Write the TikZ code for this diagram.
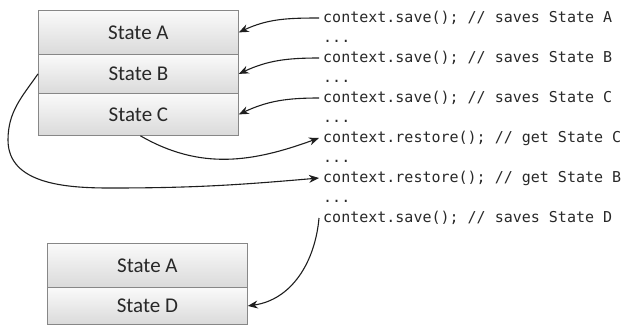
\documentclass[tikz,border=0pt]{standalone}
\usepackage{fontspec}
\setmainfont{Carlito}
\newfontfamily\codefont{DejaVu Sans Mono}
\usetikzlibrary{arrows.meta}
\definecolor{boxline}{RGB}{135,135,135}
\definecolor{boxtop}{RGB}{250,250,250}
\definecolor{boxbot}{RGB}{218,218,218}
\definecolor{txtcol}{RGB}{40,40,40}
\definecolor{arrcol}{RGB}{30,30,30}
\begin{document}
\begin{tikzpicture}[x=1pt,y=-1pt,
  statebox/.style={draw=boxline, line width=0.8pt, top color=boxtop, bottom color=boxbot,
    minimum width=200pt, anchor=north west, inner sep=0pt, text=txtcol,
    font=\fontsize{21}{21}\selectfont},
  codeline/.style={anchor=west, inner xsep=4pt, inner ysep=0pt, text height=11pt, text depth=3pt,
    text=txtcol, font=\codefont\fontsize{15}{15}\selectfont},
  arr/.style={draw=arrcol, line width=1.1pt, -{Stealth[length=10pt,width=8pt]}}]
\useasboundingbox (0,0) rectangle (627,325);
% top stack
\node[statebox, minimum height=44pt] (ta) at (38,10) {State A};
\node[statebox, minimum height=39pt] (tb) at (38,54) {State B};
\node[statebox, minimum height=42pt] (tc) at (38,93) {State C};
% bottom stack
\node[statebox, minimum height=44pt] (ba) at (47,243) {State A};
\node[statebox, minimum height=37pt] (bd) at (47,287) {State D};
% code
\node[codeline] (c1) at (319,18) {context.save(); // saves State A};
\node[codeline] (d1) at (319,38) {...};
\node[codeline] (c2) at (319,58) {context.save(); // saves State B};
\node[codeline] (d2) at (319,78) {...};
\node[codeline] (c3) at (319,98) {context.save(); // saves State C};
\node[codeline] (d3) at (319,118) {...};
\node[codeline] (c4) at (319,138) {context.restore(); // get State C};
\node[codeline] (d4) at (319,158) {...};
\node[codeline] (c5) at (319,178) {context.restore(); // get State B};
\node[codeline] (d5) at (319,198) {...};
\node[codeline] (c6) at (319,218) {context.save(); // saves State D};
% connectors
\coordinate (p1) at (8,140);
\coordinate (p2) at (110,188);
\draw[arr] (c1.west) to[out=180,in=25] (ta.east);
\draw[arr] (c2.west) to[out=180,in=25] (tb.east);
\draw[arr] (c3.west) to[out=180,in=25] (tc.east);
\draw[arr] ([xshift=2pt]tc.south) to[out=-30,in=200] (c4.west);
\draw[arr] (tb.west) to[out=235,in=90] (p1) to[out=-90,in=180] (p2) to[out=0,in=185] (c5.west);
\draw[arr] (c6.west) to[out=-95,in=8] (bd.east);
\end{tikzpicture}
\end{document}
